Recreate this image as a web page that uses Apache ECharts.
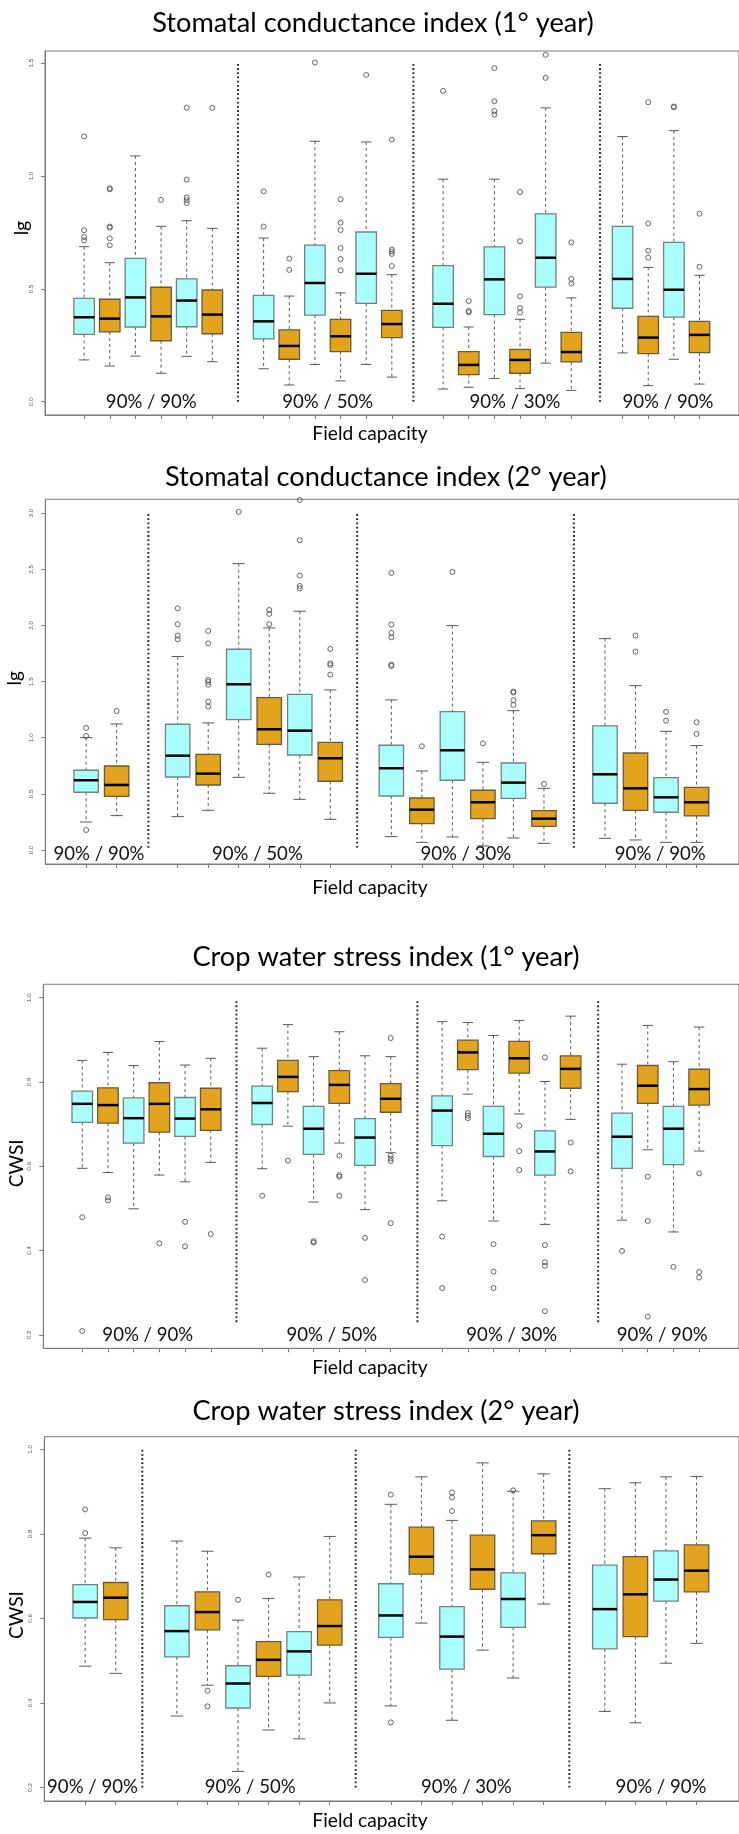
<!DOCTYPE html>
<html>
<head>
<meta charset="utf-8">
<script src="https://cdn.jsdelivr.net/npm/echarts@6/dist/echarts.min.js"></script>
<style>
html, body { margin: 0; padding: 0; background: #fff; }
#chart { width: 739px; height: 1834px; }
</style>
</head>
<body>
<div id="chart"></div>
<script>
// Treatment groups along each x axis
const groupNames = ['90% / 90%', '90% / 50%', '90% / 30%', '90% / 90%'];

// ---- Stomatal conductance index, 1st year ----
const sc1Pos  = [1, 2, 3, 4, 5, 6, 8, 9, 10, 11, 12, 13, 15, 16, 17, 18, 19, 20, 22, 23, 24, 25];
const sc1Low  = [0.185, 0.158, 0.202, 0.126, 0.201, 0.177, 0.146, 0.074, 0.165, 0.092, 0.165, 0.109, 0.056, 0.064, 0.103, 0.058, 0.171, 0.050, 0.216, 0.071, 0.188, 0.078];
const sc1Q1   = [0.298, 0.309, 0.331, 0.270, 0.332, 0.301, 0.278, 0.188, 0.384, 0.222, 0.436, 0.284, 0.329, 0.120, 0.386, 0.126, 0.508, 0.176, 0.414, 0.213, 0.375, 0.217];
const sc1Med  = [0.374, 0.368, 0.462, 0.378, 0.448, 0.386, 0.356, 0.247, 0.526, 0.290, 0.567, 0.344, 0.434, 0.163, 0.542, 0.185, 0.638, 0.220, 0.544, 0.284, 0.496, 0.296];
const sc1Q3   = [0.458, 0.454, 0.635, 0.507, 0.544, 0.495, 0.471, 0.318, 0.694, 0.365, 0.752, 0.405, 0.603, 0.222, 0.686, 0.232, 0.832, 0.307, 0.777, 0.378, 0.706, 0.356];
const sc1High = [0.687, 0.616, 1.089, 0.777, 0.802, 0.768, 0.725, 0.468, 1.154, 0.482, 1.151, 0.563, 0.986, 0.331, 0.986, 0.365, 1.302, 0.460, 1.175, 0.595, 1.201, 0.560];
const sc1Out  = [
  [1.175, 0.76, 0.73, 0.715], [0.946, 0.941, 0.776, 0.771, 0.724, 0.693], [], [0.894], [1.303, 0.984, 0.905, 0.893, 0.88], [1.302],
  [0.932, 0.776], [0.634, 0.584], [1.503], [0.897, 0.793, 0.761, 0.681, 0.632, 0.582], [1.448], [1.161, 0.674, 0.665, 0.655, 0.601],
  [1.377], [0.446, 0.402, 0.396], [1.478, 1.331, 1.288, 1.272], [0.929, 0.711, 0.467, 0.415, 0.395], [1.537, 1.435], [0.706, 0.544, 0.523],
  [], [1.327, 0.790, 0.669, 0.638], [1.308, 1.305], [0.833, 0.598]
];
const sc1Sep = [7.0, 13.84, 21.12];
const sc1SepSpan = [0, 1.5];
const sc1LabelX = [3.62, 10.5, 17.8, 23.77];
const sc1LabelY = 0.0;
const sc1Ticks = [0, 0.5, 1.0, 1.5];

// ---- Stomatal conductance index, 2nd year ----
const sc2Pos  = [1, 2, 4, 5, 6, 7, 8, 9, 11, 12, 13, 14, 15, 16, 18, 19, 20, 21];
const sc2Low  = [0.249, 0.306, 0.297, 0.353, 0.647, 0.505, 0.451, 0.273, 0.119, 0.068, 0.116, 0.036, 0.107, 0.059, 0.104, 0.089, 0.068, 0.068];
const sc2Q1   = [0.514, 0.478, 0.650, 0.579, 1.161, 0.941, 0.846, 0.612, 0.481, 0.235, 0.621, 0.279, 0.460, 0.211, 0.416, 0.353, 0.336, 0.303];
const sc2Med  = [0.621, 0.579, 0.840, 0.680, 1.476, 1.075, 1.063, 0.817, 0.728, 0.359, 0.888, 0.425, 0.600, 0.279, 0.674, 0.549, 0.469, 0.425];
const sc2Q3   = [0.710, 0.748, 1.120, 0.852, 1.788, 1.357, 1.387, 0.959, 0.933, 0.463, 1.233, 0.532, 0.775, 0.350, 1.105, 0.864, 0.644, 0.558];
const sc2High = [1.001, 1.123, 1.723, 1.132, 2.551, 1.978, 2.127, 1.426, 1.337, 0.704, 1.999, 0.781, 1.241, 0.549, 1.883, 1.464, 1.057, 0.930];
const sc2Out  = [
  [1.087, 1.016, 0.178], [1.238],
  [2.153, 2.011, 1.910, 1.877], [1.951, 1.841, 1.515, 1.497, 1.473, 1.322, 1.277], [3.012], [2.138, 2.103, 2.011], [3.118, 2.759, 2.444, 2.352, 2.331], [1.791, 1.663, 1.648, 1.562],
  [2.468, 2.008, 1.933, 1.895, 1.651, 1.639], [0.924], [2.477], [0.950], [1.411, 1.402, 1.334, 1.292], [0.588],
  [], [1.910, 1.767], [1.230, 1.152], [1.138, 1.034]
];
const sc2Sep = [3.04, 9.88, 16.98];
const sc2SepSpan = [0.02, 3.0];
const sc2LabelX = [1.42, 6.61, 13.44, 19.81];
const sc2LabelY = -0.04;
const sc2Ticks = [0, 0.5, 1.0, 1.5, 2.0, 2.5, 3.0];

// ---- Crop water stress index, 1st year ----
const cw1Pos  = [1, 2, 3, 4, 5, 6, 8, 9, 10, 11, 12, 13, 15, 16, 17, 18, 19, 20, 22, 23, 24, 25];
const cw1Low  = [0.595, 0.585, 0.499, 0.579, 0.563, 0.609, 0.594, 0.695, 0.515, 0.655, 0.497, 0.632, 0.518, 0.771, 0.470, 0.724, 0.462, 0.711, 0.472, 0.639, 0.444, 0.636];
const cw1Q1   = [0.704, 0.702, 0.655, 0.681, 0.671, 0.685, 0.699, 0.777, 0.628, 0.749, 0.602, 0.728, 0.649, 0.829, 0.623, 0.821, 0.579, 0.785, 0.595, 0.749, 0.604, 0.745];
const cw1Med  = [0.748, 0.745, 0.714, 0.748, 0.713, 0.735, 0.750, 0.812, 0.689, 0.793, 0.668, 0.760, 0.732, 0.870, 0.677, 0.856, 0.635, 0.831, 0.670, 0.791, 0.689, 0.783];
const cw1Q3   = [0.778, 0.786, 0.762, 0.798, 0.763, 0.785, 0.790, 0.851, 0.742, 0.827, 0.713, 0.796, 0.767, 0.899, 0.742, 0.896, 0.684, 0.862, 0.726, 0.839, 0.742, 0.830];
const cw1High = [0.851, 0.870, 0.839, 0.896, 0.840, 0.856, 0.880, 0.936, 0.860, 0.919, 0.862, 0.860, 0.943, 0.941, 0.910, 0.946, 0.801, 0.956, 0.842, 0.934, 0.848, 0.930];
const cw1Out  = [
  [0.479, 0.209], [0.526, 0.519], [], [0.417], [0.468, 0.410], [0.439],
  [0.530], [0.613], [0.422, 0.419], [0.625, 0.579, 0.575, 0.530], [0.430, 0.330], [0.904, 0.625, 0.618, 0.612, 0.465],
  [0.433, 0.311], [0.726, 0.720, 0.714], [0.415, 0.350, 0.311], [0.696, 0.636, 0.591], [0.858, 0.413, 0.372, 0.364, 0.256], [0.656, 0.588],
  [0.399], [0.575, 0.470, 0.243], [0.361], [0.583, 0.349, 0.336]
];
const cw1Sep = [7.0, 14.04, 21.07];
const cw1SepSpan = [0.23, 0.995];
const cw1LabelX = [3.55, 10.71, 17.71, 23.56];
const cw1LabelY = 0.2;
const cw1Ticks = [0.2, 0.4, 0.6, 0.8, 1.0];

// ---- Crop water stress index, 2nd year ----
const cw2Pos  = [1, 2, 4, 5, 6, 7, 8, 9, 11, 12, 13, 14, 15, 16, 18, 19, 20, 21];
const cw2Low  = [0.487, 0.470, 0.369, 0.442, 0.238, 0.336, 0.315, 0.400, 0.393, 0.589, 0.359, 0.525, 0.459, 0.634, 0.380, 0.353, 0.494, 0.541];
const cw2Q1   = [0.601, 0.597, 0.509, 0.573, 0.388, 0.463, 0.466, 0.537, 0.555, 0.705, 0.480, 0.669, 0.579, 0.753, 0.528, 0.557, 0.641, 0.663];
const cw2Med  = [0.639, 0.649, 0.570, 0.615, 0.446, 0.502, 0.522, 0.582, 0.607, 0.746, 0.557, 0.716, 0.646, 0.797, 0.622, 0.657, 0.692, 0.713];
const cw2Q3   = [0.680, 0.685, 0.630, 0.663, 0.488, 0.545, 0.569, 0.644, 0.682, 0.816, 0.628, 0.797, 0.708, 0.831, 0.726, 0.746, 0.760, 0.774];
const cw2High = [0.790, 0.767, 0.783, 0.759, 0.596, 0.647, 0.698, 0.794, 0.870, 0.935, 0.832, 0.968, 0.901, 0.942, 0.907, 0.921, 0.935, 0.936];
const cw2Out  = [
  [0.858, 0.802], [],
  [], [0.429, 0.392], [0.644], [0.704], [], [],
  [0.893, 0.354], [], [0.898, 0.886, 0.854], [], [0.903], [],
  [], [], [], []
];
const cw2Sep = [2.87, 9.85, 16.84];
const cw2SepSpan = [0.2, 1.0];
const cw2LabelX = [1.24, 6.40, 13.47, 19.84];
const cw2LabelY = 0.2;
const cw2Ticks = [0.2, 0.4, 0.6, 0.8, 1.0];

// ---- styling ----
const CYAN = '#AAFEFB';
const CYAN_EDGE = '#6F8383';
const ORANGE = '#E2A41E';
const ORANGE_EDGE = '#6B5A38';
const WHISKER = '#5A5A5A';
const FRAME = '#7A7A7A';
const TEXT_FONT = 'Lato, "Open Sans", sans-serif';
const TICK_FONT = '"Liberation Sans", Arial, sans-serif';

const panels = [
  { title: 'Stomatal conductance index (1° year)', yName: 'lg', yNameX: 22, yNameY: 228,
    pos: sc1Pos, low: sc1Low, q1: sc1Q1, med: sc1Med, q3: sc1Q3, high: sc1High, out: sc1Out,
    sep: sc1Sep, sepSpan: sc1SepSpan, labelX: sc1LabelX, labelY: sc1LabelY, ticks: sc1Ticks,
    grid: { left: 45, top: 51, width: 697, height: 364 }, x: [-0.526, 26.54], y: [-0.059, 1.554],
    titleX: 373, titleY: 23.7, xNameY: 434.2 },
  { title: 'Stomatal conductance index (2° year)', yName: 'lg', yNameX: 14.7, yNameY: 678.3,
    pos: sc2Pos, low: sc2Low, q1: sc2Q1, med: sc2Med, q3: sc2Q3, high: sc2High, out: sc2Out,
    sep: sc2Sep, sepSpan: sc2SepSpan, labelX: sc2LabelX, labelY: sc2LabelY, ticks: sc2Ticks,
    grid: { left: 45.3, top: 499.3, width: 697, height: 364.7 }, x: [-0.337, 22.39], y: [-0.125, 3.124],
    titleX: 385.8, titleY: 477.5, xNameY: 888 },
  { title: 'Crop water stress index (1° year)', yName: 'CWSI', yNameX: 17, yNameY: 1163.3,
    pos: cw1Pos, low: cw1Low, q1: cw1Q1, med: cw1Med, q3: cw1Q3, high: cw1High, out: cw1Out,
    sep: cw1Sep, sepSpan: cw1SepSpan, labelX: cw1LabelX, labelY: cw1LabelY, ticks: cw1Ticks,
    grid: { left: 43.3, top: 984.3, width: 697, height: 364 }, x: [-0.515, 26.55], y: [0.168, 1.0316],
    titleX: 386, titleY: 957.7, xNameY: 1367.7 },
  { title: 'Crop water stress index (2° year)', yName: 'CWSI', yNameX: 17, yNameY: 1615,
    pos: cw2Pos, low: cw2Low, q1: cw2Q1, med: cw2Med, q3: cw2Q3, high: cw2High, out: cw2Out,
    sep: cw2Sep, sepSpan: cw2SepSpan, labelX: cw2LabelX, labelY: cw2LabelY, ticks: cw2Ticks,
    grid: { left: 44.3, top: 1436.7, width: 697, height: 364.3 }, x: [-0.337, 22.39], y: [0.168, 1.030],
    titleX: 386, titleY: 1410.9, xNameY: 1820.5 }
];

// Box, dashed whiskers, staples and median; cyan / orange alternate within every group
function renderBox(params, api) {
  const x = api.value(0);
  const lo = api.coord([x, api.value(1)]);
  const a = api.coord([x, api.value(2)]);
  const m = api.coord([x, api.value(3)]);
  const b = api.coord([x, api.value(4)]);
  const hi = api.coord([x, api.value(5)]);
  const w = api.size([0.8, 0])[0];
  const cx = lo[0];
  const first = params.dataIndex % 2 === 0;
  const dash = { stroke: WHISKER, lineWidth: 1, lineDash: [3, 3] };
  const solid = { stroke: WHISKER, lineWidth: 1 };
  return {
    type: 'group',
    children: [
      { type: 'line', shape: { x1: cx, y1: hi[1], x2: cx, y2: b[1] }, style: dash },
      { type: 'line', shape: { x1: cx, y1: a[1], x2: cx, y2: lo[1] }, style: dash },
      { type: 'line', shape: { x1: cx - w / 4, y1: hi[1], x2: cx + w / 4, y2: hi[1] }, style: solid },
      { type: 'line', shape: { x1: cx - w / 4, y1: lo[1], x2: cx + w / 4, y2: lo[1] }, style: solid },
      { type: 'rect', shape: { x: cx - w / 2, y: b[1], width: w, height: a[1] - b[1] },
        style: { fill: first ? CYAN : ORANGE, stroke: first ? CYAN_EDGE : ORANGE_EDGE, lineWidth: 1.3 } },
      { type: 'line', shape: { x1: cx - w / 2, y1: m[1], x2: cx + w / 2, y2: m[1] },
        style: { stroke: '#000', lineWidth: 2.5 } }
    ]
  };
}

// Dotted separators between treatment groups
function renderSep(params, api) {
  const p0 = api.coord([api.value(0), api.value(1)]);
  const p1 = api.coord([api.value(0), api.value(2)]);
  return { type: 'line', shape: { x1: p0[0], y1: p0[1], x2: p1[0], y2: p1[1] },
    style: { stroke: '#2A2A2A', lineWidth: 2, lineDash: [1.8, 2.4] } };
}

function renderGroupLabel(params, api) {
  const p = api.coord([api.value(0), api.value(1)]);
  return { type: 'text', x: p[0], y: p[1],
    style: { text: groupNames[params.dataIndex], fill: '#111', fontSize: 18.6, fontFamily: TEXT_FONT,
      align: 'center', verticalAlign: 'middle', textAlign: 'center', textVerticalAlign: 'middle' } };
}

// Small vertical tick labels beside the value axis
function renderTickLabel(params, api) {
  const v = api.value(1);
  const p = api.coord([api.value(0), v]);
  return { type: 'text', x: p[0] - 13.8, y: p[1], rotation: Math.PI / 2,
    style: { text: v.toFixed(1), fill: '#555', fontSize: 6.2, fontFamily: TICK_FONT,
      align: 'center', verticalAlign: 'middle', textAlign: 'center', textVerticalAlign: 'middle' } };
}

const grids = [], xAxes = [], yAxes = [], series = [], graphics = [];

panels.forEach(function (pn, k) {
  grids.push(Object.assign({ show: true, borderColor: FRAME, borderWidth: 1, backgroundColor: 'transparent' }, pn.grid));
  xAxes.push({
    type: 'value', gridIndex: k, min: pn.x[0], max: pn.x[1],
    axisLine: { show: true, onZero: false, lineStyle: { color: FRAME, width: 1 } },
    axisTick: { show: true, customValues: pn.pos, length: 4, lineStyle: { color: FRAME } },
    axisLabel: { show: false },
    splitLine: { show: false }
  });
  yAxes.push({
    type: 'value', gridIndex: k, min: pn.y[0], max: pn.y[1],
    axisLine: { show: true, onZero: false, lineStyle: { color: FRAME, width: 1 } },
    axisTick: { show: true, customValues: pn.ticks, length: 4, lineStyle: { color: FRAME } },
    axisLabel: { show: false },
    splitLine: { show: false }
  });

  const boxData = pn.pos.map(function (p, i) { return [p, pn.low[i], pn.q1[i], pn.med[i], pn.q3[i], pn.high[i]]; });
  series.push({ type: 'custom', xAxisIndex: k, yAxisIndex: k, renderItem: renderBox, data: boxData,
    encode: { x: 0, y: [1, 2, 3, 4, 5] }, silent: true, z: 3 });

  const outData = [];
  pn.out.forEach(function (vals, i) { vals.forEach(function (v) { outData.push([pn.pos[i], v]); }); });
  series.push({ type: 'scatter', xAxisIndex: k, yAxisIndex: k, data: outData, symbol: 'circle', symbolSize: 5,
    itemStyle: { color: 'rgba(255,255,255,0)', borderColor: '#555', borderWidth: 0.9, opacity: 1 },
    silent: true, z: 4 });

  series.push({ type: 'custom', xAxisIndex: k, yAxisIndex: k, renderItem: renderSep,
    data: pn.sep.map(function (s) { return [s, pn.sepSpan[0], pn.sepSpan[1]]; }),
    encode: { x: 0, y: [1, 2] }, silent: true, z: 2 });

  series.push({ type: 'custom', xAxisIndex: k, yAxisIndex: k, renderItem: renderGroupLabel,
    data: pn.labelX.map(function (lx) { return [lx, pn.labelY]; }),
    encode: { x: 0, y: 1 }, silent: true, z: 5 });

  series.push({ type: 'custom', xAxisIndex: k, yAxisIndex: k, renderItem: renderTickLabel,
    data: pn.ticks.map(function (t) { return [pn.x[0], t]; }),
    encode: { x: 0, y: 1 }, silent: true, clip: false, z: 5 });

  graphics.push({ type: 'text', x: pn.titleX, y: pn.titleY,
    style: { text: pn.title, fontSize: 27.2, fontFamily: TEXT_FONT, fill: '#000',
      align: 'center', verticalAlign: 'middle', textAlign: 'center', textVerticalAlign: 'middle' } });
  graphics.push({ type: 'text', x: 370, y: pn.xNameY,
    style: { text: 'Field capacity', fontSize: 19.2, fontFamily: TEXT_FONT, fill: '#000',
      align: 'center', verticalAlign: 'middle', textAlign: 'center', textVerticalAlign: 'middle' } });
  graphics.push({ type: 'text', x: pn.yNameX, y: pn.yNameY, rotation: Math.PI / 2,
    style: { text: pn.yName, fontSize: 19, fontFamily: TEXT_FONT, fill: '#000',
      align: 'center', verticalAlign: 'middle', textAlign: 'center', textVerticalAlign: 'middle' } });
});

const chart = echarts.init(document.getElementById('chart'), null, { renderer: 'canvas' });
chart.setOption({
  backgroundColor: '#fff',
  animation: false,
  grid: grids,
  xAxis: xAxes,
  yAxis: yAxes,
  series: series,
  graphic: graphics
});
</script>
</body>
</html>
